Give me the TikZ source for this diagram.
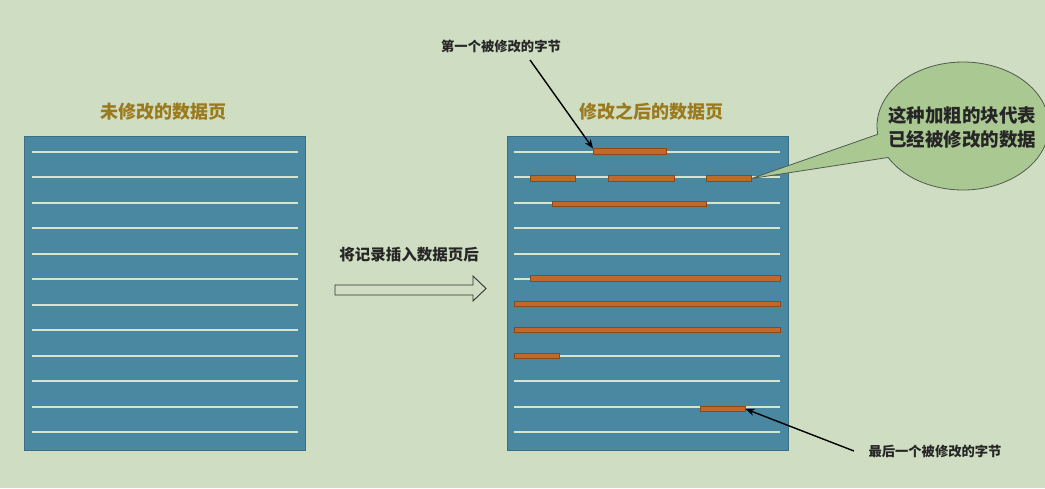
\documentclass[tikz,border=0pt]{standalone}
\usepackage{fontspec}
\newfontfamily\cjk{Noto Sans CJK SC}
\usetikzlibrary{shapes.callouts,arrows.meta}
\definecolor{bg}{RGB}{207,222,194}
\definecolor{pagefill}{RGB}{74,135,160}
\definecolor{pageedge}{RGB}{60,110,132}
\definecolor{rowc}{RGB}{214,230,204}
\definecolor{barfill}{RGB}{192,105,42}
\definecolor{baredge}{RGB}{140,72,26}
\definecolor{titlec}{RGB}{155,122,30}
\definecolor{notefill}{RGB}{170,200,146}
\definecolor{noteedge}{RGB}{80,90,80}
\tikzset{
  page/.style={rectangle, draw=pageedge, fill=pagefill, line width=1pt, inner sep=0pt, anchor=north west, minimum width=281pt, minimum height=314pt},
  rowline/.style={draw=rowc, line width=2pt},
  bar/.style={rectangle, fill=barfill, draw=baredge, line width=0.6pt, inner sep=0pt, minimum height=5.5pt, anchor=west},
  ttl/.style={font=\cjk\bfseries\fontsize{18}{20}\selectfont, text=titlec},
  lbl/.style={font=\cjk\bfseries\fontsize{13.3}{15}\selectfont, text=black!85},
  ptr/.style={draw=black, line width=1.4pt, -{Stealth[length=9pt,width=7pt]}},
  hollow/.style={draw=black!80, line width=0.9pt, fill=bg}
}
\begin{document}
\begin{tikzpicture}[x=1pt,y=-1pt]
\fill[bg] (0,0) rectangle (1045,488);
\useasboundingbox (0,0) rectangle (1045,488);
% pages
\node[page] (L) at (24,136) {};
\node[page] (R) at (507,136) {};
\foreach \y in {151.5,177,202.5,228,253.5,279,304.5,330,355.5,381,406.5,432}{
  \draw[rowline] (32,\y) -- (298,\y);
  \draw[rowline] (514,\y) -- (780,\y);
}
% titles
\node[ttl] (tl) at (163,112) {未修改的数据页};
\node[ttl] (tr) at (651,112) {修改之后的数据页};
% modified bars
\node[bar, minimum width=73pt] (b1) at (593,151.5) {};
\node[bar, minimum width=45pt] (b2a) at (530,178.5) {};
\node[bar, minimum width=66pt] (b2b) at (608,178.5) {};
\node[bar, minimum width=45pt] (b2c) at (706,178.5) {};
\node[bar, minimum width=154pt] (b3) at (552,204) {};
\node[bar, minimum width=250pt] (b6) at (530,278.5) {};
\node[bar, minimum width=266pt] (b7) at (514,304) {};
\node[bar, minimum width=266pt] (b8) at (514,330) {};
\node[bar, minimum width=45pt] (b9) at (514,356) {};
\node[bar, minimum width=45pt] (b11) at (700,409) {};
% middle arrow
\node[font=\cjk\bfseries\fontsize{15.5}{17}\selectfont, text=black!85] (mid) at (409,255) {将记录插入数据页后};
\draw[hollow] (335,285) -- (473,285) -- (473,276) -- (486,288.5) -- (473,301) -- (473,295) -- (335,295) -- cycle;
% labels and pointers
\node[lbl] (t1) at (501,46) {第一个被修改的字节};
\node[lbl] (t2) at (935,451) {最后一个被修改的字节};
\draw[ptr] ([xshift=29pt,yshift=-4pt]t1.south) -- (b1.north west);
\draw[ptr] ([xshift=-11pt,yshift=0pt]t2.west) -- (b11.east);
% callout
\node[ellipse callout, draw=noteedge, fill=notefill, line width=0.8pt, inner sep=0pt,
      minimum width=172pt, minimum height=128pt,
      callout absolute pointer={(b2c.east)}, callout pointer arc=22] (note) at (963,126) {};
\node[align=center, inner sep=0pt, font=\cjk\bfseries\fontsize{18.5}{24}\selectfont, text=black!85] (notetext) at (962,127)
      {这种加粗的块代表\\已经被修改的数据};
\end{tikzpicture}
\end{document}
